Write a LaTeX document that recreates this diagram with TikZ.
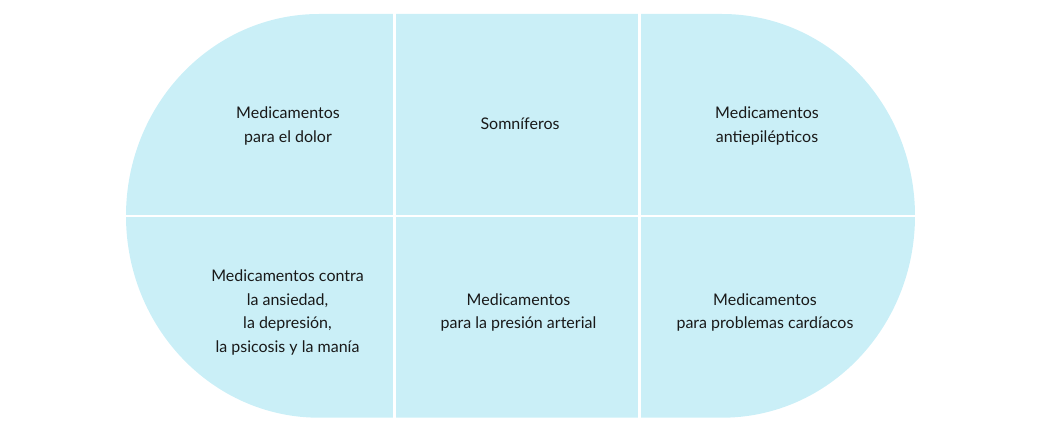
\documentclass[tikz,border=0pt]{standalone}
\usepackage{fontspec}
\setmainfont{Lato}
\definecolor{pill}{HTML}{CAEFF7}
\begin{document}
\begin{tikzpicture}[x=1pt,y=1pt,
  group/.style={align=center,text=black!90,font=\fontsize{16}{23.4}\selectfont},
  divider/.style={white,line width=3pt}]
  \useasboundingbox (0,0) rectangle (1063,432);
  \coordinate (TL) at (319,418);
  \coordinate (TR) at (722,418);
  \coordinate (BL) at (319,14.3);
  \fill[pill] (TL) -- (TR)
    arc[start angle=90,end angle=-90,x radius=193,y radius=201.85] -- (BL)
    arc[start angle=270,end angle=90,x radius=193,y radius=201.85] -- cycle;
  % white gaps between the six cells
  \foreach \x in {394.5,639.5} \draw[divider] (\x,0) -- (\x,432);
  \draw[divider,line width=2.5pt] (100,216) -- (960,216);
  \node[group] (pain) at (288,306) {Medicamentos\\para el dolor};
  \node[group] (sleep) at (520,308.5) {Somníferos};
  \node[group] (epilepsy) at (767,306) {Medicamentos\\antiepilépticos};
  \node[group] (mood) at (287.5,119.5) {Medicamentos contra\\la ansiedad,\\la depresión,\\la psicosis y la manía};
  \node[group] (pressure) at (518.5,119.5) {Medicamentos\\para la presión arterial};
  \node[group] (heart) at (765,119.5) {Medicamentos\\para problemas cardíacos};
\end{tikzpicture}
\end{document}
